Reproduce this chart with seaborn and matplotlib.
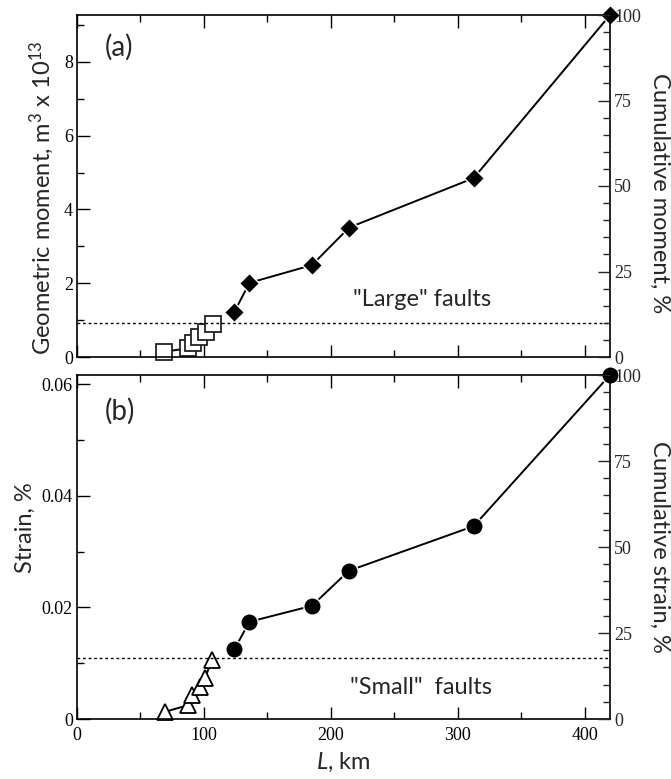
import matplotlib
matplotlib.use("Agg")
import matplotlib.pyplot as plt
import seaborn as sns
import numpy as np
from matplotlib.ticker import MultipleLocator

# ---------------- data ----------------
# Panel (a): geometric moment (x 10^13 m^3) vs fault length L (km)
small_L_a = [68.6, 87.8, 91.2, 96.5, 101.7, 107.0]
small_M = [0.14, 0.24, 0.39, 0.55, 0.69, 0.90]
large_L_a = [123.8, 135.9, 185.1, 214.5, 312.6, 420.0]
large_M = [1.21, 2.01, 2.49, 3.51, 4.85, 9.27]
moment_threshold = 0.91

# Panel (b): strain (%) vs fault length L (km)
small_L_b = [69.4, 87.8, 90.5, 97.0, 100.9, 106.2]
small_S = [0.0013, 0.0025, 0.0043, 0.0058, 0.0073, 0.0106]
large_L_b = [124.1, 135.9, 185.1, 214.2, 312.6, 420.0]
large_S = [0.01254, 0.01744, 0.0203, 0.02658, 0.03459, 0.0617]
strain_threshold = 0.01088

x_ticks = [0, 100, 200, 300, 400]
moment_ticks = [0, 2, 4, 6, 8]
strain_ticks = [0, 0.02, 0.04, 0.06]
strain_tick_labels = ["0", "0.02", "0.04", "0.06"]
cum_ticks = [0, 25, 50, 75, 100]

# ---------------- style ----------------
sns.set_style("ticks")
plt.rcParams["font.family"] = ["Lato", "DejaVu Sans"]
plt.rcParams["mathtext.fontset"] = "custom"
plt.rcParams["mathtext.rm"] = "Lato"
plt.rcParams["mathtext.it"] = "Lato:italic"
plt.rcParams["mathtext.default"] = "regular"

SERIF = "Liberation Serif"
TICK_FS = 13
LABEL_FS = 17
W, H = 671, 779

fig = plt.figure(figsize=(W / 100, H / 100), dpi=100)

def px_rect(left, top, right, bottom):
    return [left / W, 1 - bottom / H, (right - left) / W, (bottom - top) / H]

ax_a = fig.add_axes(px_rect(77, 15, 610, 357))
ax_b = fig.add_axes(px_rect(77, 375, 610, 719))


def style_axis(ax, xlabels=True):
    ax.set_xlim(0, 420)
    ax.xaxis.set_major_locator(MultipleLocator(100))
    ax.xaxis.set_minor_locator(MultipleLocator(50))
    ax.tick_params(axis="both", which="both", direction="in", top=True,
                   right=False, width=1.0, colors="black")
    ax.tick_params(which="major", length=9)
    ax.tick_params(which="minor", length=5)
    ax.tick_params(axis="y", pad=3)
    ax.tick_params(axis="x", pad=6)
    for s in ax.spines.values():
        s.set_linewidth(1.2)
        s.set_color("black")
    for lab in ax.get_xticklabels() + ax.get_yticklabels():
        lab.set_fontfamily(SERIF)
        lab.set_fontsize(TICK_FS)
    if not xlabels:
        ax.tick_params(axis="x", labelbottom=False)


def style_twin(tw):
    tw.set_ylim(0, 100)
    tw.set_yticks(cum_ticks)
    tw.yaxis.set_minor_locator(MultipleLocator(5))
    tw.tick_params(axis="y", which="both", direction="in", right=True,
                   left=False, width=1.0, pad=3)
    tw.tick_params(which="major", length=9)
    tw.tick_params(which="minor", length=5)
    for s in tw.spines.values():
        s.set_visible(False)
    for lab in tw.get_yticklabels():
        lab.set_fontfamily(SERIF)
        lab.set_fontsize(TICK_FS)


line_kw = dict(color="black", linewidth=1.4, sort=False, legend=False)

# ---------- panel (a) ----------
sns.lineplot(x=small_L_a, y=small_M, ax=ax_a, marker="s", markersize=12,
             markerfacecolor="white", markeredgecolor="#222222",
             markeredgewidth=1.3, **line_kw)
sns.lineplot(x=large_L_a, y=large_M, ax=ax_a, marker="D", markersize=10,
             markerfacecolor="black", markeredgecolor="white",
             markeredgewidth=1.0, **line_kw)
ax_a.axhline(moment_threshold, color="black", linewidth=1.0,
             linestyle=(0, (2, 2)))
ax_a.set_ylim(0, 9.27)
ax_a.set_yticks(moment_ticks)
ax_a.yaxis.set_minor_locator(MultipleLocator(1))
style_axis(ax_a, xlabels=False)
ax_a.set_ylabel("Geometric moment, m$^3$ x 10$^{13}$", fontsize=LABEL_FS)
ax_a.yaxis.label.set_va("center")
ax_a.yaxis.set_label_coords(-0.066, 0.465)
ax_a.set_xlabel("")
ax_a.text(0.053, 0.905, "(a)", transform=ax_a.transAxes, fontsize=20,
          ha="left", va="center")
ax_a.text(0.518, 0.167, '"Large" faults', transform=ax_a.transAxes,
          fontsize=LABEL_FS, ha="left", va="center")

tw_a = ax_a.twinx()
style_twin(tw_a)
tw_a.set_ylabel("Cumulative moment, %", fontsize=LABEL_FS, rotation=270)
tw_a.yaxis.label.set_va("center")
tw_a.yaxis.set_label_coords(1.094, 0.48)

# ---------- panel (b) ----------
sns.lineplot(x=small_L_b, y=small_S, ax=ax_b, marker="^", markersize=12,
             markerfacecolor="white", markeredgecolor="black",
             markeredgewidth=1.3, **line_kw)
sns.lineplot(x=large_L_b, y=large_S, ax=ax_b, marker="o", markersize=12.5,
             markerfacecolor="black", markeredgecolor="white",
             markeredgewidth=1.0, **line_kw)
ax_b.axhline(strain_threshold, color="black", linewidth=1.0,
             linestyle=(0, (2, 2)))
ax_b.set_ylim(0, 0.0617)
ax_b.set_yticks(strain_ticks)
ax_b.set_yticklabels(strain_tick_labels)
ax_b.yaxis.set_minor_locator(MultipleLocator(0.01))
style_axis(ax_b, xlabels=True)
ax_b.set_xticks(x_ticks)
ax_b.set_xticklabels([str(v) for v in x_ticks], fontfamily=SERIF,
                     fontsize=TICK_FS)
ax_b.set_ylabel("Strain, %", fontsize=LABEL_FS)
ax_b.yaxis.label.set_va("center")
ax_b.yaxis.set_label_coords(-0.096, 0.555)
ax_b.set_xlabel("$\\it{L}$, km", fontsize=LABEL_FS)
ax_b.xaxis.label.set_va("center")
ax_b.xaxis.set_label_coords(0.5, (719 - 762) / 344)
ax_b.text(0.053, 0.895, "(b)", transform=ax_b.transAxes, fontsize=20,
          ha="left", va="center")
ax_b.text(0.512, 0.093, '"Small"  faults', transform=ax_b.transAxes,
          fontsize=LABEL_FS, ha="left", va="center")

tw_b = ax_b.twinx()
style_twin(tw_b)
tw_b.set_ylabel("Cumulative strain, %", fontsize=LABEL_FS, rotation=270)
tw_b.yaxis.label.set_va("center")
tw_b.yaxis.set_label_coords(1.094, 0.5)

for ax in (ax_a, ax_b):
    for ln in ax.lines:
        ln.set_clip_on(False)

fig.savefig("out.png", dpi=100)
